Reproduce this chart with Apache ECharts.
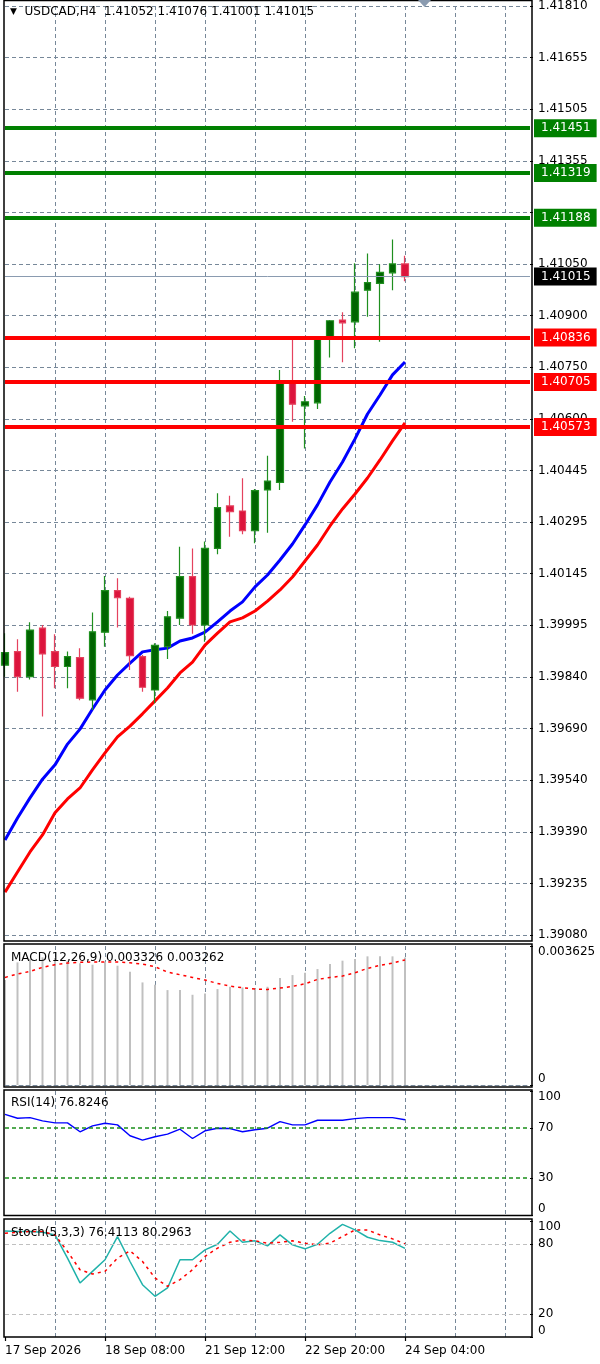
<!DOCTYPE html>
<html><head><meta charset="utf-8">
<script src="https://cdn.jsdelivr.net/npm/echarts@6/dist/echarts.min.js"></script>
<style>html,body{margin:0;padding:0;background:#fff}#c{width:600px;height:1364px}</style>
</head><body><div id="c"></div><script>
// ---- categories (H4 bars + empty shift area) ----
const times = ['17 Sep 00:00','17 Sep 04:00','17 Sep 08:00','17 Sep 12:00','17 Sep 16:00','17 Sep 20:00',
 '18 Sep 00:00','18 Sep 04:00','18 Sep 08:00','18 Sep 12:00','18 Sep 16:00','18 Sep 20:00',
 '20 Sep 20:00','21 Sep 00:00','21 Sep 04:00','21 Sep 08:00','21 Sep 12:00','21 Sep 16:00','21 Sep 20:00',
 '22 Sep 00:00','22 Sep 04:00','22 Sep 08:00','22 Sep 12:00','22 Sep 16:00','22 Sep 20:00',
 '23 Sep 00:00','23 Sep 04:00','23 Sep 08:00','23 Sep 12:00','23 Sep 16:00','23 Sep 20:00',
 '24 Sep 00:00','24 Sep 04:00','24 Sep 08:00','24 Sep 12:00','24 Sep 16:00','24 Sep 20:00',
 '25 Sep 00:00','25 Sep 04:00','25 Sep 08:00','25 Sep 12:00','25 Sep 16:00','25 Sep 20:00'];
const xLabelIdx = [0, 8, 16, 24, 32];
const xLabels = ['17 Sep 2026','18 Sep 08:00','21 Sep 12:00','22 Sep 20:00','24 Sep 04:00'];

// ---- price axis tick labels (bottom to top) ----
const priceTicks = ['1.39080','1.39235','1.39390','1.39540','1.39690','1.39840','1.39995','1.40145','1.40295',
 '1.40445','1.40600','1.40750','1.40900','1.41050','1.41200','1.41355','1.41505','1.41655','1.41810'];
const priceMin = 1.39080, priceMax = 1.41810;

// ---- OHLC ----
const open  = [1.39873,1.39913,1.39839,1.39982,1.39913,1.39869,1.39895,1.39771,1.39970,1.40092,1.40069,1.39898,1.39800,1.39927,1.40011,1.40133,1.39991,1.40216,1.40341,1.40326,1.40268,1.40388,1.40410,1.40706,1.40635,1.40644,1.40831,1.40887,1.40882,1.40975,1.40995,1.41026,1.41052];
const close = [1.39910,1.39839,1.39976,1.39906,1.39869,1.39898,1.39776,1.39971,1.40092,1.40071,1.39901,1.39808,1.39931,1.40015,1.40133,1.39991,1.40216,1.40336,1.40324,1.40268,1.40386,1.40414,1.40706,1.40640,1.40647,1.40835,1.40885,1.40879,1.40969,1.40997,1.41027,1.41052,1.41015];
const high  = [1.39967,1.39949,1.39999,1.39991,1.39964,1.39913,1.39923,1.40028,1.40135,1.40128,1.40074,1.39903,1.39937,1.40032,1.40221,1.40216,1.40236,1.40378,1.40371,1.40422,1.40391,1.40488,1.40740,1.40829,1.40664,1.40840,1.40887,1.40910,1.41054,1.41083,1.41051,1.41124,1.41076];
const low   = [1.39839,1.39795,1.39831,1.39722,1.39805,1.39805,1.39770,1.39741,1.39927,1.39984,1.39859,1.39795,1.39761,1.39891,1.39991,1.39965,1.39942,1.40199,1.40250,1.40258,1.40231,1.40262,1.40388,1.40588,1.40510,1.40626,1.40777,1.40763,1.40804,1.40897,1.40823,1.40975,1.41001];

// ---- moving averages ----
const maBlue = [1.39359,1.39424,1.39483,1.39538,1.39580,1.39641,1.39685,1.39744,1.39800,1.39844,1.39879,1.39912,1.39918,1.39923,1.39944,1.39953,1.39970,1.40000,1.40032,1.40059,1.40103,1.40138,1.40182,1.40229,1.40285,1.40344,1.40411,1.40470,1.40538,1.40611,1.40667,1.40726,1.40764];
const maRed  = [1.39206,1.39265,1.39324,1.39374,1.39439,1.39480,1.39512,1.39565,1.39615,1.39662,1.39694,1.39730,1.39768,1.39806,1.39850,1.39882,1.39932,1.39967,1.40000,1.40012,1.40032,1.40061,1.40094,1.40132,1.40179,1.40226,1.40282,1.40332,1.40376,1.40423,1.40476,1.40532,1.40585];

// ---- horizontal levels ----
const resistance = [1.41451, 1.41319, 1.41188];
const support = [1.40836, 1.40705, 1.40573];

// ---- MACD(12,26,9) ----
const macd = [0.002736,0.003198,0.003285,0.003329,0.003311,0.003242,0.003172,0.003137,0.003215,0.003111,0.002954,0.002675,0.002614,0.002475,0.002475,0.002353,0.002388,0.002501,0.002562,0.002544,0.002518,0.002562,0.002788,0.002867,0.002928,0.003024,0.003154,0.003242,0.003285,0.003355,0.003355,0.003355,0.003326];
const macdSignal = [0.002806,0.002893,0.002963,0.003067,0.003137,0.003181,0.003198,0.003207,0.003207,0.003207,0.003189,0.003154,0.003085,0.002945,0.002876,0.002806,0.002736,0.002649,0.002579,0.002536,0.002501,0.002492,0.002527,0.002571,0.002640,0.002754,0.002806,0.002841,0.002928,0.003041,0.003120,0.003181,0.003262];
const macdTicks = ['0','0.003625'];
const macdMax = 0.003625;

// ---- RSI(14) ----
const rsi = [81.2,78.0,78.5,75.9,74.3,74.3,67.1,71.9,74.0,72.7,63.9,60.4,63.1,65.2,69.2,61.7,67.9,70.0,69.7,67.1,68.7,70.0,75.3,72.7,72.7,76.4,76.4,76.4,77.7,78.5,78.5,78.5,76.8246];
const rsiTicks = [0, 30, 70, 100];

// ---- Stochastic(5,3,3) ----
const stochMain = [91.4,91.0,90.9,90.3,88.0,68.0,46.6,56.6,66.6,86.6,65.1,45.1,35.1,42.3,66.6,66.6,75.1,80.0,91.4,81.7,82.9,78.6,88.0,79.4,76.0,80.0,89.4,97.1,92.3,86.0,83.1,81.7,76.4113];
const stochSignal = [89.4,90.3,90.9,90.9,88.0,73.7,58.0,54.3,56.6,68.0,74.3,65.1,50.9,43.7,49.4,58.0,69.4,76.6,81.7,83.7,82.9,80.9,81.7,82.9,80.9,79.4,80.9,86.6,92.3,92.3,88.0,84.6,80.2963];
const stochTicks = [0, 20, 80, 100];

// ---------------------------------------------------------------
const FONT = 'DejaVu Sans';
const GRIDC = '#778899';
const last = close.length - 1;
const candles = open.map((o, i) => [o, close[i], low[i], high[i]]);
const priceStep = (priceMax - priceMin) / (priceTicks.length - 1);
const levelValues = resistance.concat(support, [close[last]]);

const grids = [
  {left: 5, right: 70, top: 6, height: 929},
  {left: 5, right: 70, top: 946, height: 139},
  {left: 5, right: 70, top: 1091, height: 124},
  {left: 5, right: 70, top: 1221, height: 116}
];

function xAxisFor(g, lastAxis) {
  return {
    type: 'category', gridIndex: g, data: times, boundaryGap: false,
    axisLine: {show: g === 1 || g === 2, lineStyle: {color: GRIDC, type: [4, 3], width: 1}},
    splitLine: {show: true, interval: (i) => i > 0 && i % 4 === 0, lineStyle: {color: GRIDC, type: [4, 3], width: 1}},
    axisTick: lastAxis ? {show: true, interval: (i) => xLabelIdx.includes(i), length: 4, lineStyle: {color: '#000', width: 1.2}} : {show: false},
    axisLabel: lastAxis ? {show: true, interval: (i) => xLabelIdx.includes(i), formatter: (v, i) => xLabels[xLabelIdx.indexOf(i)] || '',
      align: 'left', margin: 8, fontSize: 12, color: '#000', fontFamily: FONT} : {show: false}
  };
}

const yLabelBase = {fontSize: 12, color: '#000', fontFamily: FONT, margin: 8};
const yTick = {show: true, length: 3, lineStyle: {color: '#000'}};

function levelLine(v, color) {
  return {yAxis: v, lineStyle: {color: color, width: 4, type: 'solid'}, label: {backgroundColor: color}};
}

function priceLabel(v) {
  // a tick label almost under a level box is hidden by it, as on the terminal
  if (levelValues.some(l => Math.abs(l - v) < priceStep * 0.14)) return '';
  return priceTicks[Math.round((v - priceMin) / priceStep)] || '';
}

const option = {
  animation: false,
  backgroundColor: '#ffffff',
  textStyle: {fontFamily: FONT},
  title: [
    {left: 10, top: 6, padding: 0,
     text: '{t|▼}  USDCAD,H4  ' + [open[last], high[last], low[last], close[last]].map(v => v.toFixed(5)).join(' '),
     textStyle: {fontSize: 12, fontWeight: 'normal', color: '#000', fontFamily: FONT, rich: {t: {fontSize: 9, color: '#000'}}}},
    {left: 11, top: 952, padding: 0, text: 'MACD(12,26,9) ' + macd[last].toFixed(6) + ' ' + macdSignal[last].toFixed(6),
     textStyle: {fontSize: 12, fontWeight: 'normal', color: '#000', fontFamily: FONT}},
    {left: 11, top: 1097, padding: 0, text: 'RSI(14) ' + rsi[last].toFixed(4),
     textStyle: {fontSize: 12, fontWeight: 'normal', color: '#000', fontFamily: FONT}},
    {left: 11, top: 1227, padding: 0, text: 'Stoch(5,3,3) ' + stochMain[last].toFixed(4) + ' ' + stochSignal[last].toFixed(4),
     textStyle: {fontSize: 12, fontWeight: 'normal', color: '#000', fontFamily: FONT}}
  ],
  graphic: [
    {type: 'rect', shape: {x: 4, y: 0.5, width: 528, height: 940.5}, style: {fill: 'none', stroke: '#000', lineWidth: 1.5}, z: 100, silent: true},
    {type: 'rect', shape: {x: 4, y: 944, width: 528, height: 143}, style: {fill: 'none', stroke: '#000', lineWidth: 1.5}, z: 100, silent: true},
    {type: 'rect', shape: {x: 4, y: 1090, width: 528, height: 125.5}, style: {fill: 'none', stroke: '#000', lineWidth: 1.5}, z: 100, silent: true},
    {type: 'rect', shape: {x: 4, y: 1219, width: 528, height: 118}, style: {fill: 'none', stroke: '#000', lineWidth: 1.5}, z: 100, silent: true},
    {type: 'polygon', shape: {points: [[418, 0], [431, 0], [424.5, 7]]}, style: {fill: '#8a9bb0'}, z: 100, silent: true}
  ],
  grid: grids,
  xAxis: [xAxisFor(0, false), xAxisFor(1, false), xAxisFor(2, false), xAxisFor(3, true)],
  yAxis: [
    {type: 'value', gridIndex: 0, position: 'right', min: priceMin, max: priceMax, interval: priceStep,
     axisLine: {show: false}, axisTick: yTick,
     splitLine: {show: true, lineStyle: {color: GRIDC, type: [4, 3], width: 1}},
     axisLabel: Object.assign({}, yLabelBase, {showMinLabel: true, showMaxLabel: true, formatter: priceLabel})},
    {type: 'value', gridIndex: 1, position: 'right', min: 0, max: macdMax, interval: macdMax,
     axisLine: {show: false}, axisTick: yTick, splitLine: {show: false},
     axisLabel: Object.assign({}, yLabelBase, {showMinLabel: true, showMaxLabel: true,
       verticalAlignMinLabel: 'bottom', verticalAlignMaxLabel: 'top',
       formatter: (v) => macdTicks[Math.round(v / macdMax)]})},
    {type: 'value', gridIndex: 2, position: 'right', min: 0, max: 100,
     axisLine: {show: false}, axisTick: Object.assign({customValues: rsiTicks}, yTick), splitLine: {show: false},
     axisLabel: Object.assign({}, yLabelBase, {customValues: rsiTicks, showMinLabel: true, showMaxLabel: true,
       verticalAlignMinLabel: 'bottom', verticalAlignMaxLabel: 'top'})},
    {type: 'value', gridIndex: 3, position: 'right', min: 0, max: 100,
     axisLine: {show: false}, axisTick: Object.assign({customValues: stochTicks}, yTick), splitLine: {show: false},
     axisLabel: Object.assign({}, yLabelBase, {customValues: stochTicks, showMinLabel: true, showMaxLabel: true,
       verticalAlignMinLabel: 'bottom', verticalAlignMaxLabel: 'top'})}
  ],
  series: [
    {type: 'line', name: 'MA fast', xAxisIndex: 0, yAxisIndex: 0, data: maBlue, symbol: 'none', z: 3,
     lineStyle: {color: '#0000ff', width: 3}},
    {type: 'candlestick', name: 'USDCAD', xAxisIndex: 0, yAxisIndex: 0, data: candles, barWidth: 7, z: 4,
     itemStyle: {color: '#006400', color0: '#dc143c', borderColor: '#1f8f1f', borderColor0: '#e4425e', borderWidth: 1.2}},
    {type: 'line', name: 'MA slow', xAxisIndex: 0, yAxisIndex: 0, data: maRed, symbol: 'none', z: 3,
     lineStyle: {color: '#ff0000', width: 3},
     markLine: {symbol: 'none', silent: true, animation: false, z: 6, precision: 5,
       label: {show: true, position: 'end', distance: 4, formatter: (p) => Number(p.value).toFixed(5), color: '#fff',
               fontSize: 12, lineHeight: 14, fontFamily: FONT, padding: [2, 6, 2, 7]},
       data: [
         ...resistance.map(v => levelLine(v, '#008000')),
         ...support.map(v => levelLine(v, '#ff0000')),
         {yAxis: close[last], lineStyle: {color: '#8a9bb0', width: 1, type: 'solid'}, label: {backgroundColor: '#000'}}
       ]}},
    {type: 'bar', name: 'MACD', xAxisIndex: 1, yAxisIndex: 1, data: macd, barWidth: 2, itemStyle: {color: '#c0c0c0'}},
    {type: 'line', name: 'Signal', xAxisIndex: 1, yAxisIndex: 1, data: macdSignal, symbol: 'none',
     lineStyle: {color: '#ff0000', width: 1.5, type: [3, 4]}},
    {type: 'line', name: 'RSI', xAxisIndex: 2, yAxisIndex: 2, data: rsi, symbol: 'none',
     lineStyle: {color: '#0000ff', width: 1.4},
     markLine: {symbol: 'none', silent: true, label: {show: false},
       lineStyle: {color: '#1a8f1a', width: 1.5, type: [4, 3]}, data: [{yAxis: 70}, {yAxis: 30}]}},
    {type: 'line', name: 'Stoch', xAxisIndex: 3, yAxisIndex: 3, data: stochMain, symbol: 'none',
     lineStyle: {color: '#20b2aa', width: 1.5},
     markLine: {symbol: 'none', silent: true, label: {show: false},
       lineStyle: {color: '#c0c0c0', width: 1.2, type: [4, 3]}, data: [{yAxis: 80}, {yAxis: 20}]}},
    {type: 'line', name: 'Stoch signal', xAxisIndex: 3, yAxisIndex: 3, data: stochSignal, symbol: 'none',
     lineStyle: {color: '#ff0000', width: 1.5, type: [3, 4]}}
  ]
};
const chart = echarts.init(document.getElementById('c'), null, {renderer: 'canvas'});
chart.setOption(option);
</script></body></html>
